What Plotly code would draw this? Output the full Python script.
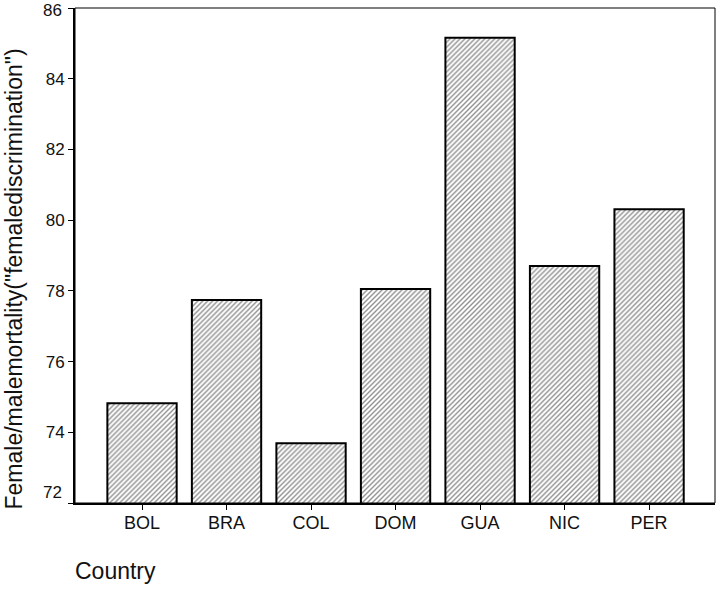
import plotly.graph_objects as go

countries = ["BOL", "BRA", "COL", "DOM", "GUA", "NIC", "PER"]
values = [74.82, 77.74, 73.69, 78.05, 85.16, 78.70, 80.31]
y_ticks = [72, 74, 76, 78, 80, 82, 84, 86]

FONT = "Arial, Liberation Sans, sans-serif"
W, H = 717, 590
ML, MR, MT, MB = 75, 2, 8, 87
PW, PH = W - ML - MR, H - MT - MB

# end labels are drawn as annotations so they can be nudged inside the frame like the original
edge_ticks = {y_ticks[0]: 11, y_ticks[-1]: -2}
tick_text = ["" if v in edge_ticks else str(v) for v in y_ticks]

fig = go.Figure()
fig.add_trace(go.Bar(
    x=countries, y=values, base=0,
    width=0.82,
    marker=dict(
        color="white",
        line=dict(color="black", width=2),
        pattern=dict(shape="/", size=3.5, solidity=0.4, fgcolor="#222222", bgcolor="white"),
    ),
))

annotations = [
    dict(text="Country", xref="paper", yref="paper",
         x=(73 - ML) / PW, y=-(571 - (MT + PH)) / PH,
         xanchor="left", yanchor="middle", showarrow=False, font=dict(size=23)),
    dict(text='Female/malemortality("femalediscrimination")', xref="paper", yref="paper",
         x=(13 - ML) / PW, y=1 - (279.5 - MT) / PH, textangle=-90,
         xanchor="center", yanchor="middle", showarrow=False, font=dict(size=23)),
]
for v, shift in edge_ticks.items():
    annotations.append(dict(text=str(v), xref="paper", yref="y", x=(64 - ML) / PW, y=v,
                            yshift=shift, xanchor="right", yanchor="middle",
                            showarrow=False, font=dict(size=17)))

fig.update_layout(
    width=W, height=H,
    margin=dict(l=ML, r=MR, t=MT, b=MB, autoexpand=False),
    plot_bgcolor="white", paper_bgcolor="white",
    showlegend=False,
    font=dict(family=FONT, color="#111111"),
    xaxis=dict(
        range=[-0.793, 6.78],
        showline=True, linecolor="black", linewidth=2,
        ticks="outside", ticklen=5, tickwidth=1, tickcolor="black",
        tickfont=dict(size=18), showgrid=False, zeroline=False, automargin=False,
        ticklabelstandoff=-3,
    ),
    yaxis=dict(
        range=[72, 86.0001],
        tickvals=y_ticks, ticktext=tick_text,
        showline=True, linecolor="black", linewidth=2,
        ticks="outside", ticklen=5, tickwidth=1, tickcolor="black",
        tickfont=dict(size=17), showgrid=False, zeroline=False, automargin=False,
    ),
    shapes=[dict(type="rect", xref="paper", yref="paper", x0=0, x1=1, y0=0, y1=1,
                 line=dict(color="black", width=1), layer="above")],
    annotations=annotations,
)

fig.write_html("out.html", config={"displayModeBar": False},
               post_script="document.body.style.margin='0';document.body.style.overflow='hidden';")
